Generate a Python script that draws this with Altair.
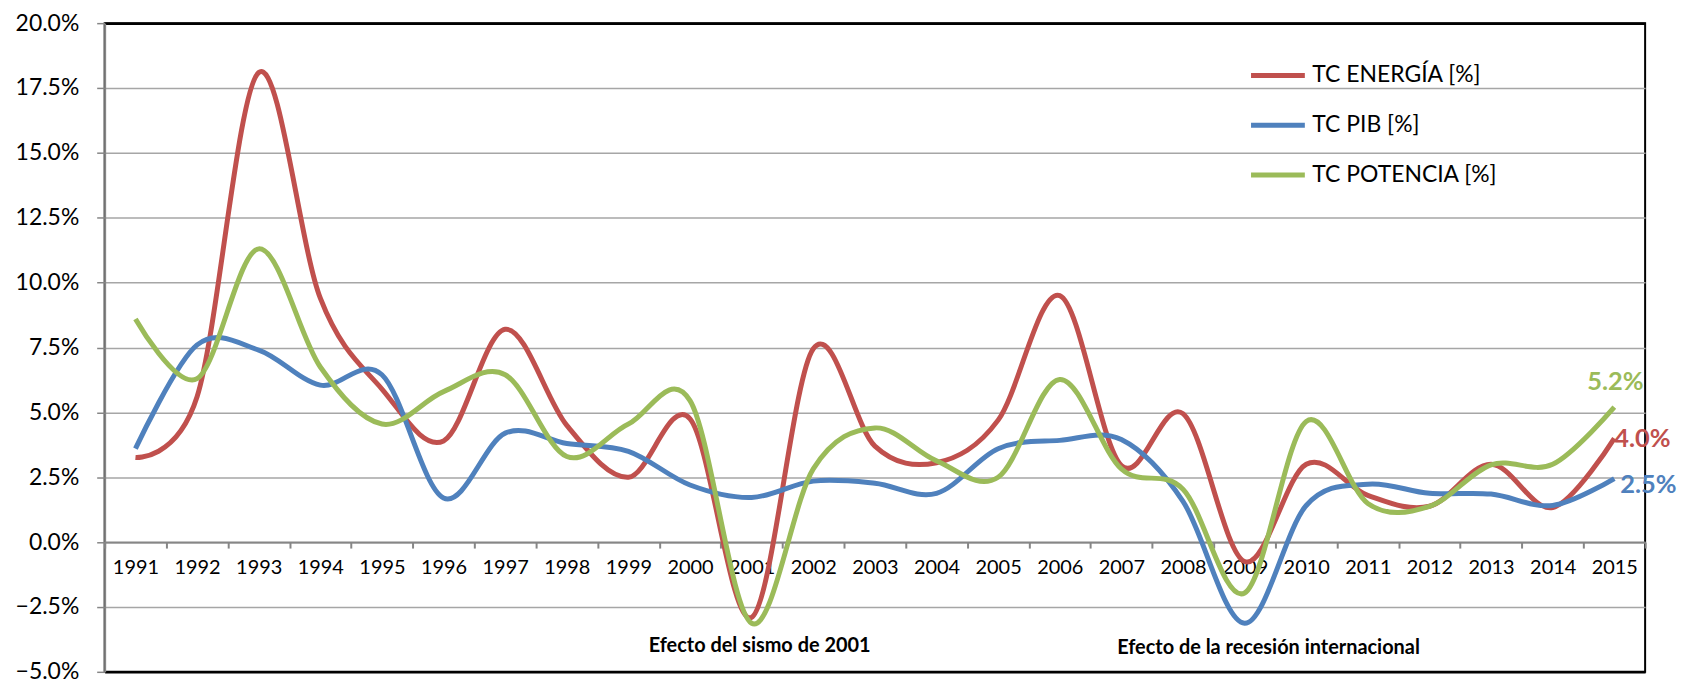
import altair as alt
import pandas as pd

anios = [str(a) for a in range(1991, 2016)]
energia = [3.26, 5.6, 18.1, 9.4, 5.9, 3.9, 8.2, 4.5, 2.5, 4.75, -2.9, 7.45, 3.7,
           3.06, 4.7, 9.5, 2.95, 4.95, -0.75, 3.0, 1.8, 1.38, 3.0, 1.33, 4.0]
pib = [3.6, 7.6, 7.4, 6.05, 6.45, 1.7, 4.2, 3.8, 3.5, 2.2, 1.72, 2.35, 2.27,
       1.88, 3.6, 3.92, 3.95, 1.57, -3.13, 1.41, 2.23, 1.88, 1.85, 1.41, 2.45]
potencia = [8.6, 6.3, 11.3, 6.75, 4.55, 5.8, 6.45, 3.3, 4.55, 5.45, -3.13, 2.82, 4.4,
            3.13, 2.5, 6.27, 2.82, 2.04, -1.96, 4.65, 1.49, 1.38, 2.98, 3.0, 5.2]

series = ["TC ENERGÍA [%]", "TC PIB [%]", "TC POTENCIA [%]"]
colores = ["#C0504D", "#4F81BD", "#9BBB59"]
grosores = [5, 5, 3]

y_ticks = [-5, -2.5, 0, 2.5, 5, 7.5, 10, 12.5, 15, 17.5, 20]

anotaciones = ["Efecto del sismo de 2001", "Efecto de la recesión internacional"]
anot_anios = ["2001", "2009"]
anot_y = [-4.25, -4.3]

rows = []
for s, vals in zip(series, [energia, pib, potencia]):
    for a, v in zip(anios, vals):
        rows.append({"anio": a, "valor": v, "serie": s})
df = pd.DataFrame(rows)

FONT = "Lato"

x_enc = alt.X("anio:N", sort=anios,
              scale=alt.Scale(type="band", paddingInner=0, paddingOuter=0),
              axis=alt.Axis(title=None, orient="bottom", offset=-130.2, labelAngle=0,
                            grid=False, domainColor="#868686", domainWidth=2,
                            tickColor="#868686", tickWidth=2, tickSize=6,
                            tickBand="extent", labelFont=FONT, labelFontSize=20,
                            labelColor="#000000", labelPadding=10))
y_scale = alt.Scale(domain=[-5, 20], nice=False, zero=False)

lines = alt.Chart(df).mark_line(interpolate="cardinal").encode(
    x=x_enc,
    y=alt.Y("valor:Q", scale=y_scale,
            axis=alt.Axis(title=None, values=y_ticks,
                          labelExpr="format(datum.value, '.1f') + '%'",
                          grid=True,
                          gridColor=alt.condition("datum.value == 20 || datum.value == -5",
                                                  alt.value("#000000"), alt.value("#a6a6a6")),
                          gridWidth=alt.condition("datum.value == 20 || datum.value == -5",
                                                  alt.value(2.5), alt.value(1.5)),
                          domainColor="#868686", domainWidth=2,
                          tickColor="#868686", tickWidth=1.5, tickSize=8,
                          labelPadding=18, labelFont=FONT, labelFontSize=23,
                          labelColor="#000000")),
    color=alt.Color("serie:N", scale=alt.Scale(domain=series, range=colores),
                    legend=alt.Legend(title=None, orient="none", legendX=1148, legendY=23,
                                      symbolType="stroke", symbolSize=2916,
                                      symbolStrokeWidth={"expr": "datum.value === 'TC POTENCIA [%]' ? 3 : 5"},
                                      labelFont=FONT, labelFontSize=23, labelColor="#000000",
                                      labelOffset=5, rowPadding=8, labelLimit=400)),
    strokeWidth=alt.StrokeWidth("serie:N", scale=alt.Scale(domain=series, range=grosores),
                                legend=None),
)

anot_df = pd.DataFrame({"anio": anot_anios, "valor": anot_y, "texto": anotaciones})
anot1 = alt.Chart(anot_df.iloc[[0]]).mark_text(font=FONT, fontWeight="bold", fontSize=20,
                                                baseline="alphabetic", align="center", dx=8,
                                                color="#000000").encode(
    x=alt.X("anio:N", sort=anios), y=alt.Y("valor:Q", scale=y_scale), text="texto:N")
anot2 = alt.Chart(anot_df.iloc[[1]]).mark_text(font=FONT, fontWeight="bold", fontSize=20,
                                                baseline="alphabetic", align="center", dx=24,
                                                color="#000000").encode(
    x=alt.X("anio:N", sort=anios), y=alt.Y("valor:Q", scale=y_scale), text="texto:N")

fin = pd.DataFrame({"anio": ["2015"] * 3, "valor": [energia[-1], pib[-1], potencia[-1]],
                    "texto": [f"{energia[-1]:.1f}%", f"{pib[-1]:.1f}%", f"{potencia[-1]:.1f}%"]})

def end_label(i, color, align, dx, dy):
    return alt.Chart(fin.iloc[[i]]).mark_text(font=FONT, fontWeight="bold", fontSize=25.5,
                                              baseline="alphabetic", align=align, dx=dx, dy=dy,
                                              color=color).encode(
        x=alt.X("anio:N", sort=anios), y=alt.Y("valor:Q", scale=y_scale), text="texto:N")

lab_e = end_label(0, colores[0], "left", 0, 9)
lab_p = end_label(1, colores[1], "left", 6, 15)
lab_t = end_label(2, colores[2], "center", 1, -17)

chart = alt.layer(lines, anot1, anot2, lab_e, lab_p, lab_t).properties(
    width=1546, height=651,
    autosize=alt.AutoSizeParams(type="none"),
    padding={"left": 97, "top": 14, "right": 34, "bottom": 8},
    background="#ffffff",
).configure_view(stroke="#000000", strokeWidth=2)

chart.save("out.html", embed_options={"renderer": "svg", "actions": False})
